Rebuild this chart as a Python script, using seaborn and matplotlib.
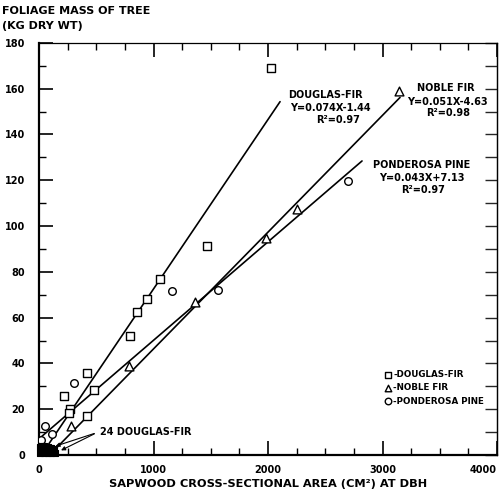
import matplotlib
matplotlib.use("Agg")
import matplotlib.pyplot as plt
from matplotlib.ticker import MultipleLocator
import seaborn as sns

# Douglas-fir (open squares)
df_x = [2023, 1465, 1057, 945, 853, 795, 483, 416, 221, 271, 265, 416]
df_y = [169, 91.5, 77, 68, 62.6, 52, 28.4, 35.7, 26, 20.1, 18.5, 17]

# the 24 small Douglas-firs piled up at the origin
small_x = [8, 15, 22, 30, 38, 45, 52, 60, 68, 75, 82, 90,
           98, 105, 112, 120, 128, 135, 12, 28, 44, 62, 80, 100]
small_y = [0.8, 1.2, 2.0, 1.5, 2.6, 1.0, 3.0, 1.8, 2.4, 0.9, 2.2, 1.6,
           3.2, 1.1, 2.0, 1.4, 2.6, 0.8, 3.5, 3.8, 4.0, 3.4, 3.6, 2.9]

# noble fir (open triangles)
nf_x = [3144, 2250, 1980, 1362, 786, 277]
nf_y = [159, 107.4, 95, 67, 38.9, 12.7]

# ponderosa pine (open circles)
pp_x = [2702, 1566, 1164, 308, 52, 111, 20]
pp_y = [119.9, 72, 71.8, 31.6, 12.7, 9.2, 6.5]

# fitted lines y = a*x + b
species = ["DOUGLAS-FIR", "NOBLE FIR", "PONDEROSA PINE"]
slopes = [0.074, 0.051, 0.043]
intercepts = [-1.44, -4.63, 7.13]
r2 = [0.97, 0.98, 0.97]
x_start = [20, 91, 0]
x_end = [2105, 3153, 2821]

x_ticks = [0, 1000, 2000, 3000, 4000]

sns.set_style("ticks")
plt.rcParams["font.family"] = ["DejaVu Sans"]
plt.rcParams["font.weight"] = "bold"
plt.rcParams["text.color"] = "black"
plt.rcParams["axes.labelcolor"] = "black"

fig = plt.figure(figsize=(5.01, 4.93), dpi=100)
ax = fig.add_axes([0.078, 0.077, 0.914, 0.836])

for a, b, x0, x1 in zip(slopes, intercepts, x_start, x_end):
    sns.lineplot(x=[x0, x1], y=[a * x0 + b, a * x1 + b], color="black",
                 lw=1.2, ax=ax)

mk = dict(facecolor="white", edgecolor="black", linewidth=1.0, zorder=3)
sns.scatterplot(x=df_x, y=df_y, marker="s", s=28, ax=ax, **mk)
sns.scatterplot(x=nf_x, y=nf_y, marker="^", s=40, ax=ax, **mk)
sns.scatterplot(x=pp_x, y=pp_y, marker="o", s=30, ax=ax, **mk)
sns.scatterplot(x=small_x, y=small_y, marker="s", s=25, color="black",
                edgecolor="black", linewidth=0.8, ax=ax, zorder=3, clip_on=False)

ax.set_xlim(0, 4000)
ax.set_ylim(0, 180)
ax.set_xticks(x_ticks, [str(t) for t in x_ticks])
ax.xaxis.set_minor_locator(MultipleLocator(250))
ax.yaxis.set_major_locator(MultipleLocator(20))
ax.yaxis.set_minor_locator(MultipleLocator(10))
ax.tick_params(which="both", direction="in", top=True, bottom=True,
               left=True, right=False, colors="black")
ax.tick_params(which="major", length=10, width=1.2, labelsize=7, pad=7)
ax.tick_params(which="minor", length=5, width=1.0)
ax.tick_params(axis="y", which="major", pad=10)
for lab in ax.get_xticklabels() + ax.get_yticklabels():
    lab.set_fontweight("bold")
    lab.set_color("black")
ax.get_xticklabels()[-1].set_horizontalalignment("right")

sec = ax.secondary_yaxis("right")
sec.yaxis.set_major_locator(MultipleLocator(10))
sec.tick_params(direction="in", length=9, width=1.0, labelright=False)

for side, w in [("left", 1.6), ("bottom", 1.6), ("top", 0.9), ("right", 0.9)]:
    ax.spines[side].set_linewidth(w)
    ax.spines[side].set_color("black")
sec.spines["right"].set_linewidth(0.9)

ax.set_xlabel("SAPWOOD CROSS-SECTIONAL AREA (CM²) AT DBH", fontsize=8.2,
              fontweight="bold", labelpad=3)
fig.text(0.004, 0.978, "FOLIAGE MASS OF TREE", fontsize=8, fontweight="bold",
         va="center", ha="left")
fig.text(0.004, 0.947, "(KG DRY WT)", fontsize=8, fontweight="bold",
         va="center", ha="left")

# equations next to each fitted line
label_pos = [[(2498, 157.3), (2541, 151.6), (2611, 146.4)],
             [(3555, 160.4), (3563, 154.3), (3576, 149.5)],
             [(3345, 126.7), (3341, 121.0), (3358, 115.8)]]
for name, a, b, r, pos in zip(species, slopes, intercepts, r2, label_pos):
    sign = "+" if b >= 0 else "-"
    lines = [name, f"Y={a:g}X{sign}{abs(b):.2f}", f"R²={r:.2f}"]
    for txt, (tx, ty) in zip(lines, pos):
        ax.text(tx, ty, txt, fontsize=7, fontweight="bold", ha="center",
                va="center")

ax.text(533, 10, "24 DOUGLAS-FIR", fontsize=7, fontweight="bold",
        ha="left", va="center")
for tip in [(120, 3.5), (170, 1.5)]:
    ax.annotate("", xy=tip, xytext=(505, 9.8),
                arrowprops=dict(arrowstyle="-|>", lw=0.8, color="black",
                                mutation_scale=6))

# hand-drawn key
key_markers = ["s", "^", "o"]
key_y = [35, 29.3, 23.6]
for m, name, ky in zip(key_markers, species, key_y):
    sns.scatterplot(x=[3048], y=[ky], marker=m, s=22, ax=ax, **mk)
    ax.text(3092, ky, "-" + name, fontsize=6.3, fontweight="bold",
            ha="left", va="center")

fig.savefig("out.png", dpi=100, facecolor="white")
